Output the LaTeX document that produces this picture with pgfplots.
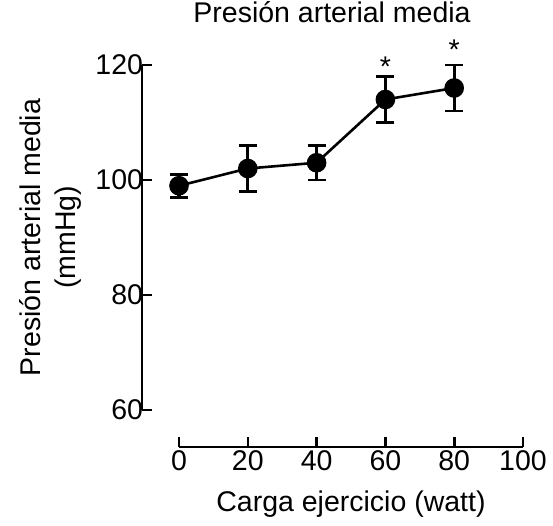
\documentclass[border=0pt]{standalone}
\usepackage{pgfplots}
\pgfplotsset{compat=1.18}
\usepackage{fontspec}
\setmainfont{Liberation Sans}
\begin{document}
\begin{tikzpicture}[font=\fontsize{28.5}{34}\selectfont]
\begin{axis}[
  at={(0,0)}, anchor=south west,
  scale only axis, width=344pt, height=345pt,
  xmin=0, xmax=100, ymin=60, ymax=120,
  axis lines=left,
  axis line style={-, line width=2.6pt},
  axis x line shift=37pt, axis y line shift=37pt,
  xtick={0,20,40,60,80,100}, ytick={60,80,100,120},
  tick align=inside, major tick length=10pt,
  tick style={line width=2.6pt, black},
  /pgf/number format/assume math mode=true,
  yticklabel style={xshift=4.5pt},
  xticklabel style={inner xsep=0pt},
  title={Presión arterial media},
  title style={at={(axis description cs:0.4448,1.107)}, anchor=base, inner sep=0pt},
  xlabel={Carga ejercicio (watt)},
  xlabel style={at={(axis description cs:0.5,-0.2725)}, anchor=center, inner sep=0pt},
  ylabel={Presión arterial media\\(mmHg)},
  ylabel style={at={(axis description cs:-0.3735,0.5)}, anchor=center, align=center, inner sep=0pt, font=\fontsize{28.5}{35}\selectfont},
  clip=false,
]
\addplot[black, line width=2.6pt, mark=*, mark size=8.5pt, mark options={solid},
  error bars/.cd, y dir=both, y explicit,
  error bar style={line width=3.2pt},
  error mark options={rotate=90, mark size=9pt, line width=2.6pt}]
  coordinates {(0,99) +- (0,2) (20,102) +- (0,4) (40,103) +- (0,3) (60,114) +- (0,4) (80,116) +- (0,4)};
\node[anchor=base, inner sep=0pt] at (axis cs:60,118.0) {*};
\node[anchor=base, inner sep=0pt] at (axis cs:80,121.0) {*};
\end{axis}
\path (-179pt,-116pt) rectangle (374pt,410pt);
\end{tikzpicture}
\end{document}
